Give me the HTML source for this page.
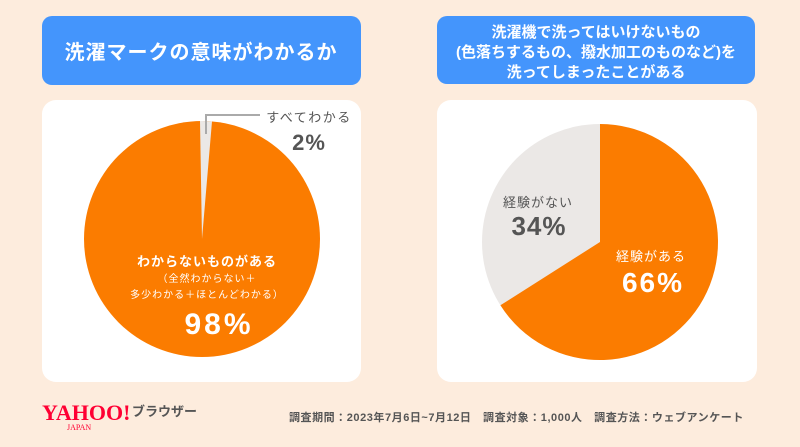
<!DOCTYPE html>
<html><head><meta charset="utf-8"><style>
body{margin:0;width:800px;height:447px;background:#fdecdd;overflow:hidden;font-family:"Liberation Sans","Noto Sans CJK JP",sans-serif;}
</style></head><body>
<svg width="800" height="447" xmlns="http://www.w3.org/2000/svg" style="position:absolute;left:0;top:0">
<rect x="42" y="16" width="319" height="69" rx="10" fill="#4495fc"/>
<rect x="437" y="16" width="318" height="68" rx="10" fill="#4495fc"/>
<rect x="42" y="100" width="319" height="282" rx="14" fill="#fff"/>
<rect x="437" y="100" width="320" height="282" rx="14" fill="#fff"/>
<g font-family="Liberation Sans, Noto Sans CJK JP, sans-serif" font-weight="bold" fill="#fff" text-anchor="middle">
<text x="201" y="59" font-size="20" letter-spacing="1">洗濯マークの意味がわかるか</text>
<text x="596" y="37" font-size="15">洗濯機で洗ってはいけないもの</text>
<text x="596" y="57" font-size="15">(色落ちするもの、撥水加工のものなど)を</text>
<text x="596" y="77" font-size="15">洗ってしまったことがある</text>
</g>
<circle cx="202" cy="239" r="118" fill="#fb7c00"/>
<path d="M202 239 L200 121 A118 118 0 0 1 212 121.4 Z" fill="#ebe8e6"/>
<polyline points="206,134 206,115 260,115" fill="none" stroke="#aaa" stroke-width="2"/>
<circle cx="600" cy="242" r="118" fill="#ebe8e6"/>
<path d="M600 242 L600 124 A118 118 0 1 1 500.4 305.3 Z" fill="#fb7c00"/>
<g font-family="Liberation Sans, Noto Sans CJK JP, sans-serif" text-anchor="middle">
<text x="309" y="122" font-size="13" fill="#555" letter-spacing="1.5">すべてわかる</text>
<text x="309" y="150" font-size="22" font-weight="bold" fill="#555" letter-spacing="1">2%</text>
<text x="207" y="266" font-size="13" fill="#fff" font-weight="bold" letter-spacing="1">わからないものがある</text>
<text x="207" y="282" font-size="10" fill="#fff" letter-spacing="1">（全然わからない＋</text>
<text x="207" y="298" font-size="10" fill="#fff" letter-spacing="1">多少わかる＋ほとんどわかる）</text>
<text x="219" y="334" font-size="30" font-weight="bold" fill="#fff" letter-spacing="3">98%</text>
<text x="538" y="207" font-size="13" fill="#555" letter-spacing="1">経験がない</text>
<text x="539" y="235" font-size="26" font-weight="bold" fill="#555" letter-spacing="1">34%</text>
<text x="651" y="261" font-size="13" fill="#fff" letter-spacing="1">経験がある</text>
<text x="653" y="292" font-size="28" font-weight="bold" fill="#fff" letter-spacing="2">66%</text>
</g>
<text x="42" y="420" font-family="Liberation Serif, serif" font-size="22" fill="#ff0033" font-weight="bold">YAHOO!</text>
<text x="67" y="430" font-family="Liberation Serif, serif" font-size="8" fill="#ff0033">JAPAN</text>
<text x="132" y="416" font-size="13" font-weight="bold" fill="#555" font-family="Liberation Sans, Noto Sans CJK JP, sans-serif">ブラウザー</text>
<text x="289" y="421" font-size="11" font-weight="bold" fill="#555" letter-spacing="0.55" font-family="Liberation Sans, Noto Sans CJK JP, sans-serif">調査期間：2023年7月6日~7月12日　調査対象：1,000人　調査方法：ウェブアンケート</text>
</svg>
</body></html>
